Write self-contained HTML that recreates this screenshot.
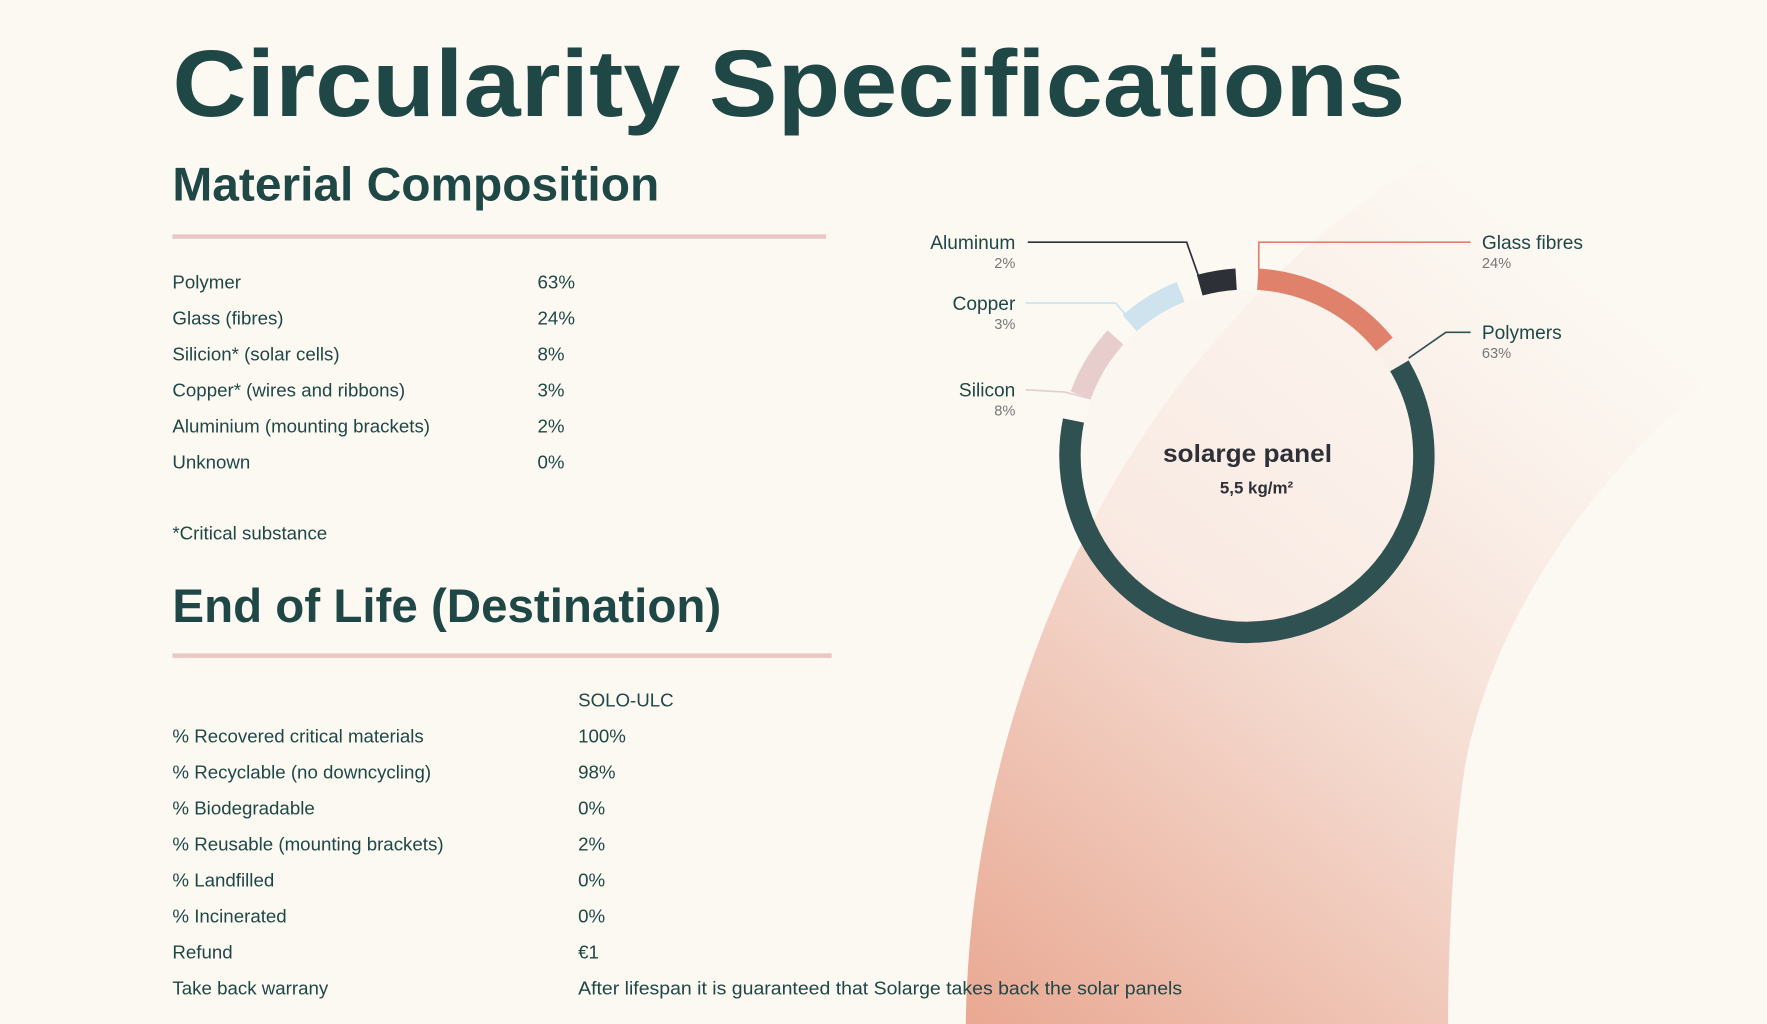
<!DOCTYPE html>
<html><head><meta charset="utf-8"><style>
html,body{margin:0;padding:0;background:#fcf9f3;}
svg{display:block;}
text{font-family:"Liberation Sans",sans-serif;fill:#1f4746;}
.t{font-size:16.6px;}
</style></head><body>
<svg width="1767" height="1024" viewBox="0 0 1568 909" preserveAspectRatio="none" xmlns="http://www.w3.org/2000/svg">
<defs>
<linearGradient id="g" x1="0" y1="1" x2="0.7" y2="0">
<stop offset="0" stop-color="#e9a892"/>
<stop offset="0.4" stop-color="#f3d5c9"/>
<stop offset="0.8" stop-color="#faefe8" stop-opacity="0.5"/>
<stop offset="1" stop-color="#fcf9f3" stop-opacity="0"/>
</linearGradient>
</defs>
<rect width="1568" height="909" fill="#fcf9f3"/>
<path d="M857,909 C860,700 930,500 1040,350 C1130,230 1250,130 1380,90 C1460,70 1530,90 1568,110 L1568,300 C1450,380 1330,520 1300,680 C1288,760 1285,850 1285,909 Z" fill="url(#g)"/>

<text x="153" y="103" font-size="84" font-weight="bold" textLength="1094" lengthAdjust="spacingAndGlyphs">Circularity Specifications</text>
<text x="153" y="178" font-size="42" font-weight="bold" textLength="432" lengthAdjust="spacingAndGlyphs">Material Composition</text>
<rect x="153" y="208" width="580" height="4" fill="#eac6c6"/>

<g class="t">
<text x="153" y="256" class="t">Polymer</text><text x="477" y="256" class="t">63%</text>
<text x="153" y="288" class="t">Glass (fibres)</text><text x="477" y="288" class="t">24%</text>
<text x="153" y="320" class="t">Silicion* (solar cells)</text><text x="477" y="320" class="t">8%</text>
<text x="153" y="352" class="t">Copper* (wires and ribbons)</text><text x="477" y="352" class="t">3%</text>
<text x="153" y="384" class="t">Aluminium (mounting brackets)</text><text x="477" y="384" class="t">2%</text>
<text x="153" y="416" class="t">Unknown</text><text x="477" y="416" class="t">0%</text>
<text x="153" y="479" class="t">*Critical substance</text>
</g>

<text x="153" y="552" font-size="42" font-weight="bold" textLength="487" lengthAdjust="spacingAndGlyphs">End of Life (Destination)</text>
<rect x="153" y="580" width="585" height="4" fill="#eac6c6"/>

<text x="513" y="627" class="t">SOLO-ULC</text>
<text x="153" y="659" class="t">% Recovered critical materials</text><text x="513" y="659" class="t">100%</text>
<text x="153" y="691" class="t">% Recyclable (no downcycling)</text><text x="513" y="691" class="t">98%</text>
<text x="153" y="723" class="t">% Biodegradable</text><text x="513" y="723" class="t">0%</text>
<text x="153" y="755" class="t">% Reusable (mounting brackets)</text><text x="513" y="755" class="t">2%</text>
<text x="153" y="787" class="t">% Landfilled</text><text x="513" y="787" class="t">0%</text>
<text x="153" y="819" class="t">% Incinerated</text><text x="513" y="819" class="t">0%</text>
<text x="153" y="851" class="t">Refund</text><text x="513" y="851" class="t">€1</text>
<text x="153" y="883" class="t">Take back warrany</text><text x="513" y="883" class="t" textLength="536" lengthAdjust="spacingAndGlyphs">After lifespan it is guaranteed that Solarge takes back the solar panels</text>

<!-- donut -->
<circle cx="1106.5" cy="404.5" r="147" fill="#fbf4ee" opacity="0.6"/>
<g fill="none" stroke-width="19">
<path d="M1116.1,247.8 A157,157 0 0 1 1228.5,305.7" stroke="#e0816b"/>
<path d="M1241.8,324.7 A157,157 0 1 1 952.6,373.3" stroke="#2f5151"/>
<path d="M959.0,350.8 A157,157 0 0 1 989.8,299.5" stroke="#e8cdcd"/>
<path d="M1002.4,286.9 A157,157 0 0 1 1047.7,259.0" stroke="#cfe3ef"/>
<path d="M1064.6,253.2 A157,157 0 0 1 1096.9,247.8" stroke="#2e3038"/>
</g>
<g fill="none" stroke-width="1.5">
<polyline points="912,215 1053,215 1066,252" stroke="#2e3038"/>
<polyline points="910,269 990,269 1008,290" stroke="#cfe3ef"/>
<polyline points="910,346 945,348 968,354" stroke="#e8cdcd"/>
<polyline points="1305,215 1117,215 1117,240" stroke="#e0816b"/>
<polyline points="1305,295 1283,295 1250,318" stroke="#2f5151"/>
</g>
<g font-size="17">
<text x="901" y="221" text-anchor="end">Aluminum</text>
<text x="901" y="238" text-anchor="end" font-size="13" style="fill:#777">2%</text>
<text x="901" y="275" text-anchor="end">Copper</text>
<text x="901" y="292" text-anchor="end" font-size="13" style="fill:#777">3%</text>
<text x="901" y="352" text-anchor="end">Silicon</text>
<text x="901" y="369" text-anchor="end" font-size="13" style="fill:#777">8%</text>
<text x="1315" y="221">Glass fibres</text>
<text x="1315" y="238" font-size="13" style="fill:#777">24%</text>
<text x="1315" y="301">Polymers</text>
<text x="1315" y="318" font-size="13" style="fill:#777">63%</text>
</g>
<text x="1107" y="410" text-anchor="middle" font-size="22" font-weight="bold" style="fill:#2e3038" textLength="150" lengthAdjust="spacingAndGlyphs">solarge panel</text>
<text x="1115" y="438" text-anchor="middle" font-size="15" font-weight="bold" style="fill:#2e3038">5,5 kg/m²</text>
</svg>
</body></html>
